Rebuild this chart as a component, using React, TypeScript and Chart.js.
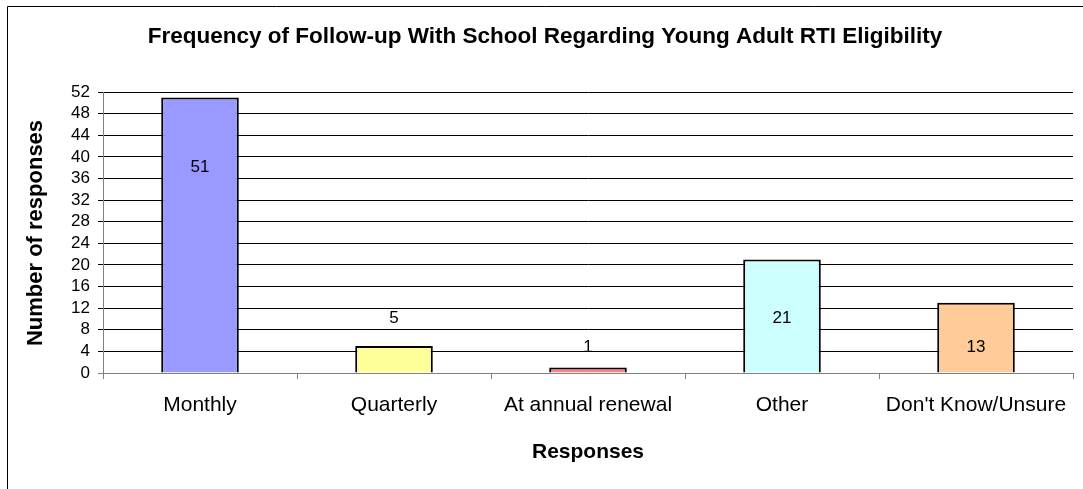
import React, { useEffect, useRef } from "react";
import { Chart, registerables } from "chart.js";

Chart.register(...registerables);

const categories = ["Monthly", "Quarterly", "At annual renewal", "Other", "Don't Know/Unsure"];
const responses = [51, 5, 1, 21, 13];
const barColors = ["#9999FF", "#FFFF99", "#FF8080", "#CCFFFF", "#FFCC99"];
const yTickMax = 52;
const yTickStep = 4;
const chartTitle = "Frequency of Follow-up With School Regarding Young Adult RTI Eligibility";
const xTitle = "Responses";
const yTitle = "Number of responses";

const FONT = "'Liberation Sans', Arial, sans-serif";

const decorPlugin = {
  id: "decor",
  afterDraw(chart: any) {
    const ctx = chart.ctx;
    const area = chart.chartArea;
    const yScale = chart.scales.y;
    const meta = chart.getDatasetMeta(0);
    const labelAt: number[] = chart.options.plugins.decor.labelAt;
    ctx.save();
    // outer frame (left & top visible)
    ctx.strokeStyle = "#000";
    ctx.lineWidth = 1;
    ctx.beginPath();
    ctx.moveTo(7.5, chart.height);
    ctx.lineTo(7.5, 6.5);
    ctx.lineTo(chart.width, 6.5);
    ctx.stroke();
    // title
    ctx.fillStyle = "#000";
    ctx.textAlign = "center";
    ctx.textBaseline = "alphabetic";
    ctx.font = `bold 22.5px ${FONT}`;
    ctx.fillText(chartTitle, 545, 43);
    // x title
    ctx.font = `bold 21px ${FONT}`;
    ctx.fillText(xTitle, (area.left + area.right) / 2, 458);
    // y title
    ctx.save();
    ctx.font = `bold 22px ${FONT}`;
    ctx.translate(42, 233);
    ctx.rotate(-Math.PI / 2);
    ctx.fillText(yTitle, 0, 0);
    ctx.restore();
    // data labels
    ctx.font = `17px ${FONT}`;
    ctx.textBaseline = "middle";
    meta.data.forEach((bar: any, i: number) => {
      ctx.fillText(String(responses[i]), bar.x, yScale.getPixelForValue(labelAt[i]));
    });
    ctx.restore();
  },
};

export default function App() {
  const ref = useRef<HTMLCanvasElement>(null);
  useEffect(() => {
    if (!ref.current) return;
    const chart = new Chart(ref.current, {
      type: "bar",
      data: {
        labels: categories,
        datasets: [
          {
            data: responses,
            backgroundColor: barColors,
            borderColor: "#000",
            borderWidth: 2,
            barPercentage: 0.4,
            categoryPercentage: 1,
          },
        ],
      },
      plugins: [decorPlugin],
      options: {
        animation: false,
        responsive: false,
        maintainAspectRatio: false,
        layout: { padding: { left: 0, right: 10, top: 92, bottom: 0 } },
        plugins: {
          legend: { display: false },
          tooltip: { enabled: false },
          title: { display: false },
          decor: { labelAt: [38.1, 10.2, 4.8, 10.2, 4.8] },
        } as any,
        scales: {
          x: {
            grid: {
              drawOnChartArea: false,
              drawTicks: true,
              tickLength: 6,
              color: "#808080",
              offset: true,
            },
            border: { color: "#808080", width: 1 },
            ticks: {
              color: "#000",
              font: { family: FONT, size: 21 },
              padding: 14,
              maxRotation: 0,
              autoSkip: false,
            },
            afterFit(scale: any) {
              scale.height = 116;
            },
          },
          y: {
            min: 0,
            max: yTickMax,
            ticks: {
              stepSize: yTickStep,
              color: "#000",
              font: { family: FONT, size: 17 },
              padding: 8,
              autoSkip: false,
            },
            grid: {
              color: (c: any) => (c.tick && c.tick.value === 0 ? "#808080" : "#000"),
              tickLength: 5,
              lineWidth: 1,
            },
            border: { color: "#808080", width: 1 },
            afterFit(scale: any) {
              scale.width = 103;
            },
          },
        },
      },
    });
    return () => chart.destroy();
  }, []);
  return (
    <div style={{ position: "fixed", left: 0, top: 0, width: 1083, height: 489, background: "#fff" }}>
      <canvas ref={ref} width={1083} height={489} style={{ width: 1083, height: 489, display: "block" }} />
    </div>
  );
}
